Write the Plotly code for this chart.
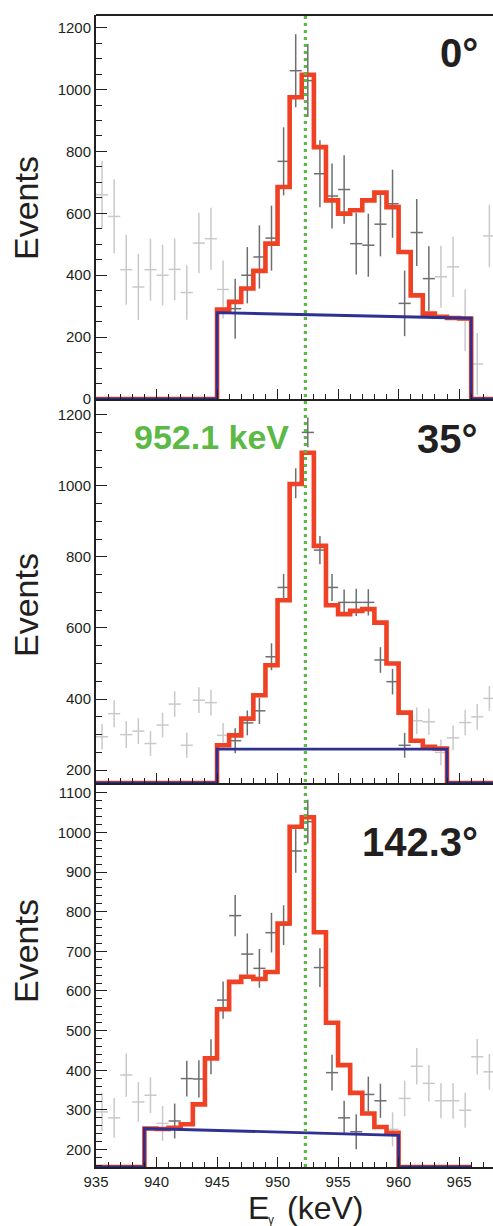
import plotly.graph_objects as go

# ---------------- data ----------------
bin_lo = 935          # first bin low edge (keV), bins are 1 keV wide
n_bins = 33
line_energy = 952.3   # dotted marker line (labelled 952.1 keV)

# panel 1 (0 deg)
p1_counts = [660, 590, 418, 362, 418, 400, 419, 344, 504, 518, 354, 292, 400, 459, 520, 768, 1061,
             1029, 728, 656, 677, 502, 497, 565, 631, 309, 538, 389, 395, 427, 255, 113, 527]
p1_err = [110, 120, 113, 107, 100, 98, 100, 88, 98, 100, 94, 97, 91, 102, 105, 110, 118,
          118, 108, 105, 111, 100, 102, 104, 110, 106, 108, 105, 100, 97, 100, 100, 101]
p1_fit_start, p1_fit = 945, [289, 314, 357, 414, 502, 685, 975, 1048, 814, 642, 599, 610, 642,
                             667, 620, 475, 335, 276, 266, 262, 260]
p1_bg = [279, 261]
p1_dark = [946, 962]
p1_hist_end = 970

# panel 2 (35 deg)
p2_counts = [294, 359, 300, 310, 275, 327, 386, 270, 397, 390, 298, 283, 333, 367, 519, 714, 1007,
             1150, 819, 714, 672, 672, 672, 510, 449, 270, 339, 336, 250, 291, 334, 350, 402]
p2_err = [36, 38, 38, 36, 35, 35, 36, 35, 36, 36, 35, 35, 35, 37, 38, 38, 42,
          42, 40, 38, 36, 38, 37, 36, 36, 35, 37, 37, 36, 35, 36, 36, 35]
p2_fit_start, p2_fit = 945, [270, 298, 345, 411, 495, 678, 1005, 1093, 831, 664, 639, 648, 653,
                             615, 500, 362, 283, 266, 261]
p2_bg = [259, 259]
p2_dark = [946, 960]
p2_hist_end = 970

# panel 3 (142.3 deg)
p3_counts = [295, 280, 388, 320, 337, 266, 272, 379, 378, 434, 577, 790, 693, 657, 747, 766, 953,
             1027, 659, 394, 280, 245, 339, 323, 251, 329, 410, 367, 323, 323, 299, 434, 396]
p3_err = [48, 50, 55, 50, 45, 44, 44, 45, 47, 44, 47, 52, 52, 49, 50, 50, 55,
          55, 49, 45, 43, 44, 45, 43, 43, 45, 46, 46, 44, 45, 44, 45, 45]
p3_fit_start, p3_fit = 939, [253, 252, 255, 264, 314, 430, 554, 623, 636, 630, 648, 770, 1014,
                             1038, 748, 520, 413, 343, 291, 257, 242]
p3_bg = [253, 236]
p3_dark = [941, 958]
p3_hist_end = 966

angle_labels = ["0°", "35°", "142.3°"]
y_ranges = [[0, 1241], [164, 1244], [156, 1124.5]]
y_dticks = [200, 200, 100]
y_minor = [50, 50, 20]
x_range = [935, 967.8]

# ---------------- style ----------------
W, H = 493, 1226
ML, MR, MT, MB = 96, 0, 15, 59
FONT = "Liberation Sans, Arial, Helvetica, sans-serif"
INK = "#231f20"
RED = "#ef4123"
BLUE = "#2e3192"
GREEN = "#5cb946"
DARK = "#6d6e71"
LIGHT = "#c8c9cb"

plot_w = W - ML - MR
plot_h = H - MT - MB


def px_x(px):
    return (px - ML) / plot_w


def px_y(py):
    return (H - MB - py) / plot_h


fig = go.Figure()

panels = [
    (p1_counts, p1_err, p1_fit_start, p1_fit, p1_bg, p1_dark, p1_hist_end),
    (p2_counts, p2_err, p2_fit_start, p2_fit, p2_bg, p2_dark, p2_hist_end),
    (p3_counts, p3_err, p3_fit_start, p3_fit, p3_bg, p3_dark, p3_hist_end),
]

centers = [bin_lo + 0.5 + i for i in range(n_bins)]

for k, (cnt, err, fs, fit, bg, dark, hend) in enumerate(panels):
    xa = "x" if k == 0 else f"x{k+1}"
    ya = "y" if k == 0 else f"y{k+1}"
    ymin = y_ranges[k][0]
    for shade, inside in ((LIGHT, False), (DARK, True)):
        sel = [(dark[0] <= c - 0.5 <= dark[1]) == inside for c in centers]
        xs = [c for c, s in zip(centers, sel) if s]
        ys = [v for v, s in zip(cnt, sel) if s]
        es = [e for e, s in zip(err, sel) if s]
        fig.add_trace(go.Scatter(
            x=xs, y=ys, mode="markers", xaxis=xa, yaxis=ya,
            marker=dict(size=2, color=shade, opacity=0),
            error_y=dict(type="data", array=es, width=0, thickness=1.5, color=shade),
            error_x=dict(type="constant", value=0.5, width=0, thickness=1.5, color=shade),
            showlegend=False, hoverinfo="skip"))
    # fit total histogram (step), zero outside the fit range (clipped at frame bottom like ROOT)
    fe = fs + len(fit)
    hx = [bin_lo] + [fs + i for i in range(len(fit))] + [fe, hend]
    hy = [0] + fit + [0, 0]
    hy = [max(v, ymin) for v in hy]
    fig.add_trace(go.Scatter(x=hx, y=hy, mode="lines", line=dict(color=RED, width=4.6, shape="hv"),
                             xaxis=xa, yaxis=ya, showlegend=False, hoverinfo="skip"))
    # linear background
    bx = [bin_lo, fs, fs, fe, fe, hend]
    by = [0, 0, bg[0], bg[1], 0, 0]
    by = [max(v, ymin) for v in by]
    fig.add_trace(go.Scatter(x=bx, y=by, mode="lines", line=dict(color=BLUE, width=2.8),
                             xaxis=xa, yaxis=ya, showlegend=False, hoverinfo="skip"))

axis_common = dict(showline=True, linecolor=INK, linewidth=2, ticks="inside",
                   tickcolor=INK, tickwidth=1.3, showgrid=False, zeroline=False,
                   automargin=False,
                   tickfont=dict(family=FONT, size=15, color=INK))

layout = dict(width=W, height=H, margin=dict(l=ML, r=MR, t=MT, b=MB, autoexpand=False),
              template="none",
              paper_bgcolor="white", plot_bgcolor="white", showlegend=False)

doms = [[2 / 3, 1], [1 / 3, 2 / 3], [0, 1 / 3]]
for k in range(3):
    xn = "xaxis" if k == 0 else f"xaxis{k+1}"
    yn = "yaxis" if k == 0 else f"yaxis{k+1}"
    ya = "y" if k == 0 else f"y{k+1}"
    xa = "x" if k == 0 else f"x{k+1}"
    layout[xn] = dict(axis_common, domain=[0, 1], anchor=ya, range=x_range,
                      tick0=935, dtick=5, ticklen=10, showticklabels=(k == 2),
                      minor=dict(ticks="inside", dtick=1, ticklen=5, tickcolor=INK, tickwidth=1.3))
    layout[yn] = dict(axis_common, domain=doms[k], anchor=xa, range=y_ranges[k],
                      tick0=0, dtick=y_dticks[k], ticklen=11,
                      minor=dict(ticks="inside", dtick=y_minor[k], ticklen=6, tickcolor=INK, tickwidth=1.3))

fig.update_layout(**layout)

# top frame line of first panel
fig.add_shape(type="line", xref="paper", yref="paper", x0=0, x1=1, y0=1, y1=1,
              line=dict(color=INK, width=2))
# dotted energy marker across all panels
fig.add_shape(type="line", xref="x", yref="paper", x0=line_energy, x1=line_energy, y0=0, y1=1,
              line=dict(color=GREEN, width=3.2, dash="3px,4px"), layer="above")

ann = []
for yc in (208, 605, 951):
    ann.append(dict(text="Events", xref="paper", yref="paper", x=px_x(26), y=px_y(yc),
                    textangle=-90, showarrow=False, xanchor="center", yanchor="middle",
                    font=dict(family=FONT, size=34, color=INK)))
for lab, yc in zip(angle_labels, (53, 439, 842)):
    ann.append(dict(text=f"<b>{lab}</b>", xref="paper", yref="paper", x=px_x(480), y=px_y(yc),
                    showarrow=False, xanchor="right", yanchor="middle",
                    font=dict(family=FONT, size=40, color=INK)))
ann.append(dict(text="<b>952.1 keV</b>", xref="paper", yref="paper", x=px_x(211), y=px_y(437),
                showarrow=False, xanchor="center", yanchor="middle",
                font=dict(family=FONT, size=34, color=GREEN)))
# x-axis title  E_gamma (keV)
ann.append(dict(text="E", xref="paper", yref="paper", x=px_x(246), y=px_y(1208),
                showarrow=False, xanchor="left", yanchor="middle",
                font=dict(family=FONT, size=32, color=INK)))
ann.append(dict(text="γ", xref="paper", yref="paper", x=px_x(271), y=px_y(1220),
                showarrow=False, xanchor="center", yanchor="middle",
                font=dict(family=FONT, size=12, color=INK)))
ann.append(dict(text="(keV)", xref="paper", yref="paper", x=px_x(285), y=px_y(1208),
                showarrow=False, xanchor="left", yanchor="middle",
                font=dict(family=FONT, size=32, color=INK)))
fig.update_layout(annotations=ann)

fig.write_html("out.html", config={"displayModeBar": False},
               post_script="document.body.style.margin='0';document.body.style.overflow='hidden';")
